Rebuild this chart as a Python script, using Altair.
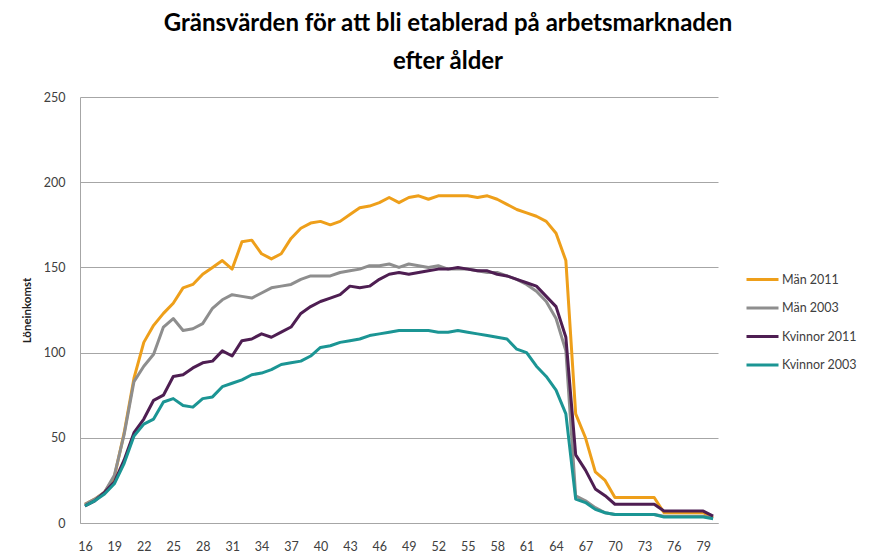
import altair as alt
import pandas as pd

ages = list(range(16, 81))

man_2011 = [11, 14, 18, 27, 53, 85, 106, 116, 123, 129, 138, 140, 146, 150, 154, 149,
            165, 166, 158, 155, 158, 167, 173, 176, 177, 175, 177, 181, 185, 186, 188,
            191, 188, 191, 192, 190, 192, 192, 192, 192, 191, 192, 190, 187, 184, 182,
            180, 177, 170, 154, 64, 50, 30, 25, 15, 15, 15, 15, 15, 6, 6, 6, 6, 6, 3]
man_2003 = [11, 14, 18, 28, 52, 83, 92, 99, 115, 120, 113, 114, 117, 126, 131, 134,
            133, 132, 135, 138, 139, 140, 143, 145, 145, 145, 147, 148, 149, 151, 151,
            152, 150, 152, 151, 150, 151, 149, 149, 149, 148, 147, 147, 145, 143, 140,
            136, 130, 120, 101, 16, 13, 9, 6, 5, 5, 5, 5, 5, 4, 4, 4, 4, 4, 3]
kv_2011 = [10, 13, 18, 24, 37, 53, 61, 72, 75, 86, 87, 91, 94, 95, 101, 98,
           107, 108, 111, 109, 112, 115, 123, 127, 130, 132, 134, 139, 138, 139, 143,
           146, 147, 146, 147, 148, 149, 149, 150, 149, 148, 148, 146, 145, 143, 141,
           139, 133, 127, 109, 40, 31, 20, 16, 11, 11, 11, 11, 11, 7, 7, 7, 7, 7, 4]
kv_2003 = [10, 13, 17, 23, 35, 51, 58, 61, 71, 73, 69, 68, 73, 74, 80, 82,
           84, 87, 88, 90, 93, 94, 95, 98, 103, 104, 106, 107, 108, 110, 111,
           112, 113, 113, 113, 113, 112, 112, 113, 112, 111, 110, 109, 108, 102, 100,
           92, 86, 78, 64, 14, 12, 8, 6, 5, 5, 5, 5, 5, 3.5, 3.5, 3.5, 3.5, 3.5, 2.5]

series_names = ["Män 2011", "Män 2003", "Kvinnor 2011", "Kvinnor 2003"]
series_colors = ["#EE9F1A", "#8E8E8E", "#4E1E52", "#1B9594"]
x_ticks = list(range(16, 80, 3))
y_ticks = [0, 50, 100, 150, 200, 250]

rows = []
for name, vals in zip(series_names, [man_2011, man_2003, kv_2011, kv_2003]):
    for a, v in zip(ages, vals):
        rows.append({"age": a, "value": v, "serie": name, "order": series_names.index(name)})
df = pd.DataFrame(rows)

FONT = "Lato"

chart = alt.Chart(df).mark_line(strokeWidth=3, strokeJoin="round").encode(
    x=alt.X("age:Q",
            scale=alt.Scale(domain=[15.5, 80.5], nice=False, zero=False),
            axis=alt.Axis(values=x_ticks, title=None, grid=False, ticks=False,
                          labelPadding=17, labelFontSize=12.5, labelColor="#404040",
                          domainColor="#A6A6A6", labelFont=FONT)),
    y=alt.Y("value:Q",
            scale=alt.Scale(domain=[0, 250], nice=False),
            axis=alt.Axis(values=y_ticks, title="Löneinkomst", grid=True,
                          gridColor="#A6A6A6", ticks=False, labelPadding=15,
                          labelFontSize=12.5, labelColor="#404040",
                          domainColor="#A6A6A6", labelFont=FONT,
                          titleFont=FONT, titleFontSize=11.5, titleFontWeight="bold",
                          titleColor="#202020", titleX=-53, titleY=213,
                          titleAngle=-90, titleBaseline="middle", titleAlign="center")),
    color=alt.Color("serie:N",
                    scale=alt.Scale(domain=series_names, range=series_colors),
                    legend=alt.Legend(title=None, orient="none", legendX=665, legendY=165,
                                      symbolType="stroke", symbolSize=1024,
                                      symbolStrokeWidth=3, labelFontSize=12.5,
                                      labelColor="#404040", labelFont=FONT,
                                      labelOffset=2, rowPadding=4.5)),
    detail="order:O",
).properties(
    width=638,
    height=426,
    title=alt.TitleParams(
        text=["Gränsvärden för att bli etablerad på arbetsmarknaden", "efter ålder"],
        font=FONT, fontSize=24, fontWeight="bold", color="#000000",
        anchor="middle", dx=49, offset=17, lineHeight=38,
    ),
    autosize=alt.AutoSizeParams(type="none"),
    padding={"left": 72, "top": 89, "right": 162, "bottom": 29},
).configure_view(stroke=None)

chart.save("out.html", embed_options={"renderer": "svg", "actions": False})
